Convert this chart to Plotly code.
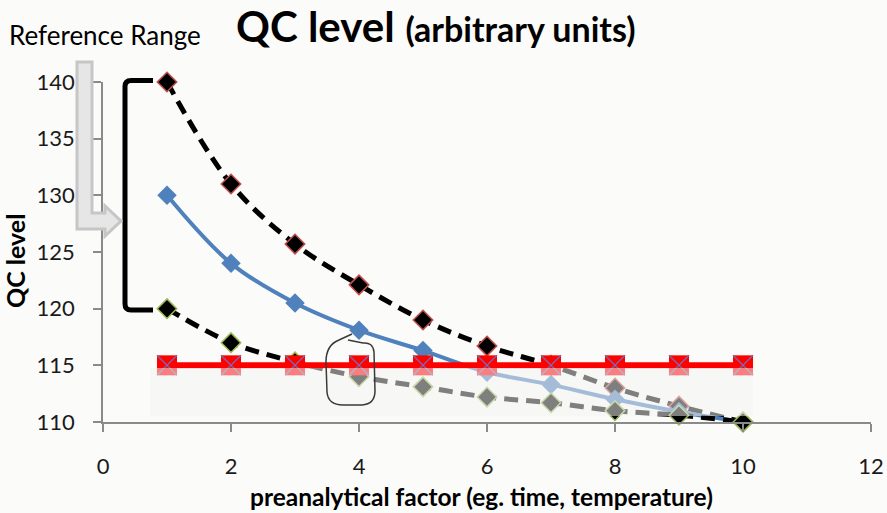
import plotly.graph_objects as go

# ---------------- data ----------------
x_vals = [1, 2, 3, 4, 5, 6, 7, 8, 9, 10]
upper = [140, 131, 125.7, 122.1, 119.0, 116.7, 115.0, 113.0, 111.4, 110]
central = [130, 124, 120.5, 118.1, 116.3, 114.4, 113.3, 112.0, 110.9, 110]
lower = [120, 117, 115.3, 114.0, 113.1, 112.2, 111.7, 111.0, 110.6, 110]
limit = [115, 115, 115, 115, 115, 115, 115, 115, 115, 115]

x_ticks = [0, 2, 4, 6, 8, 10, 12]
y_ticks = [110, 115, 120, 125, 130, 135, 140]

W, H = 887, 513
L, R, T, B = 103, 16, 82, 91
PW, PH = W - L - R, H - T - B

def px(x):
    return (x - L) / PW

def py(y):
    return (H - B - y) / PH

def path(points, close=False):
    s = "M " + " L ".join(f"{px(a):.5f},{py(b):.5f}" for a, b in points)
    return s + (" Z" if close else "")

FONT = "Lato, 'Open Sans', sans-serif"
BG = "#fbfbf9"

fig = go.Figure()

fig.add_trace(go.Scatter(
    x=x_vals, y=upper, mode="lines+markers", line_shape="spline",
    line=dict(color="#000000", width=5, dash="14px,8px"),
    marker=dict(symbol="diamond", size=15, color="#000000",
                line=dict(color="#c0504d", width=1.5)),
    cliponaxis=False))

fig.add_trace(go.Scatter(
    x=x_vals, y=central, mode="lines+markers", line_shape="spline",
    line=dict(color="#4f81bd", width=4),
    marker=dict(symbol="diamond", size=15, color="#4f81bd",
                line=dict(color="#4f81bd", width=0)),
    cliponaxis=False))

fig.add_trace(go.Scatter(
    x=x_vals, y=lower, mode="lines+markers", line_shape="spline",
    line=dict(color="#000000", width=5, dash="14px,8px"),
    marker=dict(symbol="diamond", size=15, color="#000000",
                line=dict(color="#9bbb59", width=1.5)),
    cliponaxis=False))

fig.add_trace(go.Scatter(
    x=x_vals, y=limit, mode="lines+markers",
    line=dict(color="#ff0000", width=6),
    marker=dict(symbol="square", size=20, color="#ff0000", line=dict(width=0)),
    cliponaxis=False))

fig.add_trace(go.Scatter(
    x=x_vals, y=limit, mode="markers",
    marker=dict(symbol="x-thin", size=20, color="#8064a2",
                line=dict(color="#8064a2", width=1.5)),
    cliponaxis=False))

shapes = []
# translucent overlay over lower part
shapes.append(dict(type="rect", xref="paper", yref="paper",
                   x0=px(150), x1=px(753), y0=py(416), y1=py(368),
                   fillcolor="rgba(244,244,241,0.52)", line=dict(width=0),
                   layer="above"))
# bracket for reference range
shapes.append(dict(type="path", xref="paper", yref="paper",
                   path=(f"M {px(153):.5f},{py(80.5):.5f} L {px(131):.5f},{py(80.5):.5f} "
                         f"Q {px(125):.5f},{py(80.5):.5f} {px(125):.5f},{py(86.5):.5f} "
                         f"L {px(125):.5f},{py(304):.5f} "
                         f"Q {px(125):.5f},{py(310):.5f} {px(131):.5f},{py(310):.5f} "
                         f"L {px(153):.5f},{py(310):.5f}"),
                   line=dict(color="#000000", width=5), layer="above"))
# grey bent arrow
arrow_pts = [(77, 62), (92, 62), (92, 213), (105, 213), (105, 206), (121, 221),
             (105, 236), (105, 229), (77, 229)]
shapes.append(dict(type="path", xref="paper", yref="paper",
                   path=path(arrow_pts, close=True),
                   fillcolor="#e6e6e6", line=dict(color="#c6c6c6", width=3),
                   layer="above"))
# hand-drawn circle
circ = (f"M {px(352):.5f},{py(334):.5f} L {px(339):.5f},{py(340):.5f} "
        f"Q {px(326):.5f},{py(345):.5f} {px(326):.5f},{py(362):.5f} "
        f"L {px(327):.5f},{py(392):.5f} "
        f"Q {px(328):.5f},{py(405):.5f} {px(343):.5f},{py(405):.5f} "
        f"L {px(362):.5f},{py(405):.5f} "
        f"Q {px(375):.5f},{py(404):.5f} {px(375):.5f},{py(391):.5f} "
        f"L {px(374):.5f},{py(352):.5f} "
        f"Q {px(373):.5f},{py(342):.5f} {px(363):.5f},{py(343):.5f} "
        f"L {px(348):.5f},{py(340):.5f}")
shapes.append(dict(type="path", xref="paper", yref="paper", path=circ,
                   line=dict(color="#3a3a3a", width=1.5), layer="above"))

annotations = [
    dict(text="<b>QC level</b> <b><span style='font-size:34px'>(arbitrary units)</span></b>",
         x=px(436), y=py(26), xref="paper", yref="paper", showarrow=False,
         font=dict(family=FONT, size=42, color="#000000"), xanchor="center", yanchor="middle"),
    dict(text="Reference Range", x=px(7), y=py(35), xref="paper", yref="paper",
         showarrow=False, xanchor="left", yanchor="middle",
         font=dict(family=FONT, size=26, color="#000000")),
    dict(text="<b>preanalytical factor (eg. time, temperature)</b>",
         x=px(481), y=py(496), xref="paper", yref="paper", showarrow=False,
         xanchor="center", yanchor="middle",
         font=dict(family=FONT, size=24.5, color="#000000")),
    dict(text="<b>QC level</b>", x=px(15), y=py(261), xref="paper", yref="paper",
         showarrow=False, textangle=-90, xanchor="center", yanchor="middle",
         font=dict(family=FONT, size=25, color="#000000")),
]

fig.update_layout(
    width=W, height=H, autosize=False,
    margin=dict(l=L, r=R, t=T, b=B, pad=0, autoexpand=False),
    paper_bgcolor=BG, plot_bgcolor=BG,
    showlegend=False,
    shapes=shapes, annotations=annotations,
    font=dict(family=FONT, size=22, color="#1a1a1a"),
)
fig.update_xaxes(range=[0, 12], tickvals=x_ticks, ticktext=[str(v) for v in x_ticks],
                 showgrid=False, zeroline=False, showline=True, linecolor="#8a8a8a",
                 linewidth=1.5, ticks="outside", ticklen=8, tickcolor="#8a8a8a",
                 tickwidth=1.5, ticklabelstandoff=16, automargin=False,
                 tickfont=dict(family=FONT, size=22, color="#1a1a1a"))
fig.update_yaxes(range=[110, 140], tickvals=y_ticks, ticktext=[str(v) for v in y_ticks],
                 showgrid=False, zeroline=False, showline=True, linecolor="#8a8a8a",
                 linewidth=1.5, ticks="outside", ticklen=8, tickcolor="#8a8a8a",
                 tickwidth=1.5, ticklabelstandoff=14, automargin=False,
                 tickfont=dict(family=FONT, size=22, color="#1a1a1a"))

fig.write_html("out.html")
